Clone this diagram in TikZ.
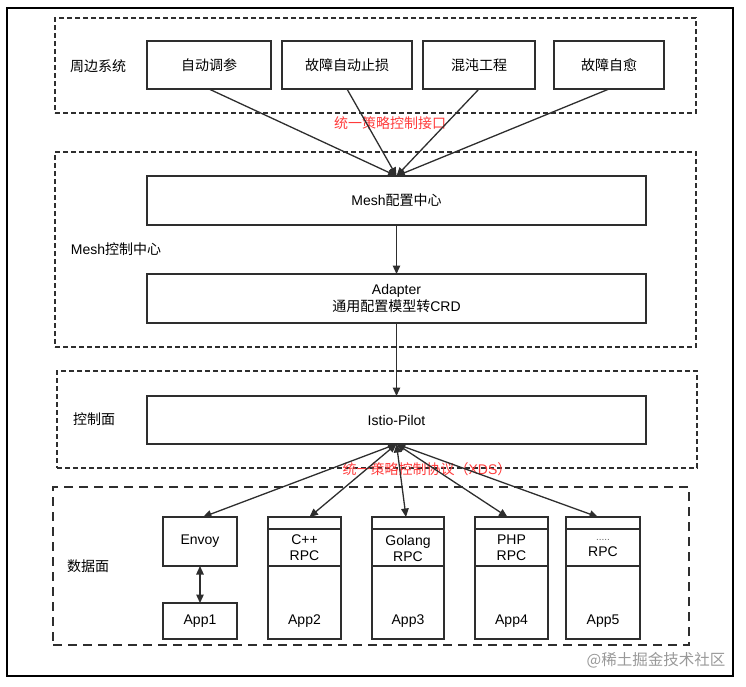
\documentclass[tikz,border=0pt]{standalone}
\usepackage{fontspec}
\setmainfont{Liberation Sans}
\newfontfamily\cjk{Noto Sans CJK SC}
\usetikzlibrary{arrows.meta}
\definecolor{ink}{HTML}{2E2E2E}
\definecolor{redtxt}{HTML}{FF3B3B}
\begin{document}
\begin{tikzpicture}[x=1pt,y=-1pt,
  every node/.style={font=\fontsize{14}{17}\selectfont, inner sep=0pt, outer sep=0pt, text=black},
  box/.style={draw=ink, line width=1.9pt},
  zone/.style={draw=ink, line width=1.8pt, dash pattern=on 5pt off 3pt},
  zonelong/.style={draw=ink, line width=1.8pt, dash pattern=on 9pt off 6pt},
  conn/.style={draw=ink, line width=1.3pt},
  tip/.style={-{Triangle[length=8.5pt,width=7.5pt]}},
  dtip/.style={{Triangle[length=8.5pt,width=7.5pt]}-{Triangle[length=8.5pt,width=7.5pt]}},
  redlabel/.style={text=redtxt}
]
\useasboundingbox (0,0) rectangle (746,686);
\draw[line width=2pt, black] (7,8) rectangle (733,676);

% zones
\node[zone, minimum width=641pt, minimum height=95pt] (zTop) at (375.5,65.5) {};
\node[zone, minimum width=641pt, minimum height=195pt] (zMesh) at (375.5,249.5) {};
\node[zone, minimum width=640pt, minimum height=97pt] (zCtrl) at (377,419.5) {};
\node[zonelong, minimum width=636pt, minimum height=158pt] (zData) at (371,566) {};

% zone labels
\node (lTop) at (98,66) {\cjk 周边系统};
\node (lMesh) at (116,249) {Mesh{\cjk 控制中心}};
\node (lCtrl) at (94,419) {\cjk 控制面};
\node (lData) at (88,566) {\cjk 数据面};

% top boxes
\node[box, minimum width=124pt, minimum height=48pt] (b1) at (209,65) {\cjk 自动调参};
\node[box, minimum width=130pt, minimum height=48pt] (b2) at (347,65) {\cjk 故障自动止损};
\node[box, minimum width=112pt, minimum height=48pt] (b3) at (479,65) {\cjk 混沌工程};
\node[box, minimum width=110pt, minimum height=48pt] (b4) at (609,65) {\cjk 故障自愈};

% mesh
\node[box, minimum width=499pt, minimum height=49pt] (mesh) at (396.5,200.5) {Mesh{\cjk 配置中心}};
\node[box, minimum width=499pt, minimum height=49pt, align=center] (adapter) at (396.5,298.5) {Adapter\\{\cjk 通用配置模型转}CRD};
\node[box, minimum width=499pt, minimum height=48pt] (pilot) at (396.5,420) {Istio-Pilot};

% red labels
\node[redlabel] (r1) at (390,123) {\cjk 统一策略控制接口};
\node[redlabel] (r2) at (427,469) {{\cjk 统一策略控制协议（}XDS{\cjk ）}};

% data plane
\node[box, minimum width=74pt, minimum height=49pt] (envoy) at (200,541.5) {Envoy};
\node[box, minimum width=74pt, minimum height=36pt] (app1) at (200,621) {App1};

\node[box, minimum width=73pt, minimum height=122pt] (c2) at (304.5,578) {};
\node[box, minimum width=72pt, minimum height=122pt] (c3) at (408,578) {};
\node[box, minimum width=73pt, minimum height=122pt] (c4) at (511.5,578) {};
\node[box, minimum width=74pt, minimum height=122pt] (c5) at (603,578) {};

\foreach \c in {c2,c3,c4,c5}{
  \draw[box] ([yshift=-12pt]\c.north west) -- ([yshift=-12pt]\c.north east);
  \draw[box] ([yshift=-49pt]\c.north west) -- ([yshift=-49pt]\c.north east);
}
\node[align=center, font=\fontsize{14}{16}\selectfont] (t2) at (304.5,548) {C++\\RPC};
\node[align=center, font=\fontsize{14}{16}\selectfont] (t3) at (408,548) {Golang\\RPC};
\node[align=center, font=\fontsize{14}{16}\selectfont] (t4) at (511.5,548) {PHP\\RPC};
\node[align=center, font=\fontsize{14}{16}\selectfont] (t5) at (603,548) {{\fontsize{10}{16}\selectfont\color{black!60}.....}\\RPC};
\node (a2) at (304.5,621) {App2};
\node (a3) at (408,621) {App3};
\node (a4) at (511.5,621) {App4};
\node (a5) at (603,621) {App5};

% connectors top
\foreach \b in {b1,b2,b3,b4}{
  \draw[conn, tip] (\b.south) -- (mesh.north);
}
\draw[conn, tip] (mesh.south) -- (adapter.north);
\draw[conn, tip] (adapter.south) -- (pilot.north);

% connectors bottom
\draw[conn, dtip] (pilot.south) -- ([xshift=3pt]envoy.north);
\draw[conn, dtip] (pilot.south) -- ([xshift=5pt]c2.north);
\draw[conn, dtip] (pilot.south) -- ([xshift=-2pt]c3.north);
\draw[conn, dtip] (pilot.south) -- ([xshift=-4pt]c4.north);
\draw[conn, dtip] (pilot.south) -- ([xshift=-5pt]c5.north);
\draw[conn, dtip] (envoy.south) -- (app1.north);

% watermark
\node[text=black!40, font=\fontsize{15.5}{17}\selectfont\cjk] (wm) at (656,660) {@稀土掘金技术社区};
\end{tikzpicture}
\end{document}
